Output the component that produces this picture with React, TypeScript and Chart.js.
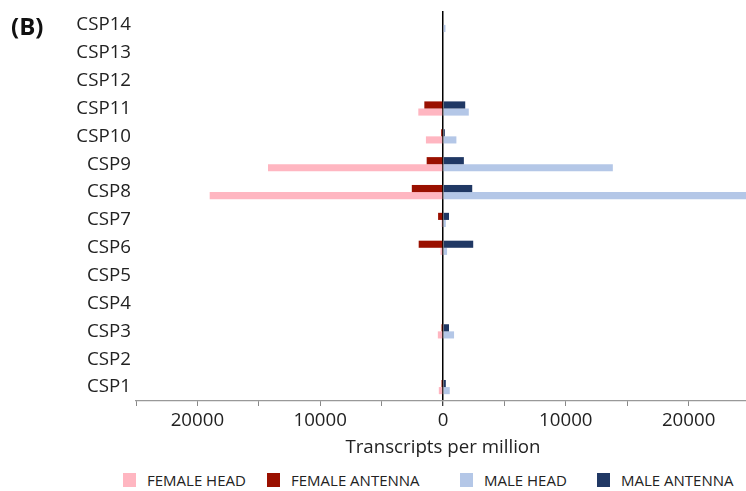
import React, { useEffect, useRef } from "react";
import { Chart, registerables } from "chart.js";

Chart.register(...registerables);

const categories = ["CSP14", "CSP13", "CSP12", "CSP11", "CSP10", "CSP9", "CSP8", "CSP7", "CSP6", "CSP5", "CSP4", "CSP3", "CSP2", "CSP1"];
// Transcripts per million (female shown to the left)
const femaleHead = [0, 0, 0, 2010, 1390, 14250, 19000, 120, 200, 0, 0, 420, 0, 340];
const femaleAntenna = [0, 0, 0, 1520, 150, 1330, 2540, 400, 1980, 0, 0, 120, 0, 120];
const maleHead = [200, 0, 0, 2100, 1090, 13830, 26000, 230, 330, 0, 0, 900, 0, 550];
const maleAntenna = [0, 0, 0, 1810, 150, 1700, 2380, 490, 2460, 0, 0, 490, 0, 230];

const seriesNames = ["FEMALE HEAD", "FEMALE ANTENNA", "MALE HEAD", "MALE ANTENNA"];
const seriesColors = ["#FFB6C1", "#9A1000", "#B4C7E7", "#203864"];
const axisTitle = "Transcripts per million";
const panelLabel = "(B)";

const FONT = '"Open Sans", "Noto Sans", sans-serif';
const legendLeft = [123, 267, 460, 597];

export default function App() {
  const ref = useRef<HTMLCanvasElement | null>(null);

  useEffect(() => {
    if (!ref.current) return;
    const neg = (a: number[]) => a.map((v) => -v);
    const chart = new Chart(ref.current, {
      type: "bar",
      data: {
        labels: categories,
        datasets: [
          { label: seriesNames[1], data: neg(femaleAntenna), backgroundColor: seriesColors[1], stack: "antenna" },
          { label: seriesNames[3], data: maleAntenna, backgroundColor: seriesColors[3], stack: "antenna" },
          { label: seriesNames[0], data: neg(femaleHead), backgroundColor: seriesColors[0], stack: "head" },
          { label: seriesNames[2], data: maleHead, backgroundColor: seriesColors[2], stack: "head" },
        ],
      },
      options: {
        indexAxis: "y",
        responsive: false,
        animation: false,
        devicePixelRatio: 1,
        datasets: { bar: { categoryPercentage: 0.51, barPercentage: 1.0, borderWidth: 0 } },
        layout: { padding: { top: 11, right: 10, left: 0, bottom: 0 } },
        plugins: { legend: { display: false }, tooltip: { enabled: false } },
        scales: {
          x: {
            stacked: true,
            min: -25000,
            max: 25000,
            afterFit: (s: any) => { s.height = 58; s.paddingLeft = 0; s.paddingRight = 0; },
            ticks: {
              stepSize: 5000,
              autoSkip: false,
              maxRotation: 0,
              padding: 3,
              color: "#222",
              font: { family: FONT, size: 18.7 },
              callback: (v: any) => (Number(v) % 10000 === 0 ? String(Math.abs(Number(v))) : ""),
            },
            grid: {
              drawOnChartArea: true,
              color: (c: any) => (c.tick && c.tick.value === 0 ? "#000" : "rgba(0,0,0,0)"),
              lineWidth: (c: any) => (c.tick && c.tick.value === 0 ? 1.5 : 1),
              tickColor: (c: any) => (c.tick && c.tick.value === 0 ? "#000" : "#888"),
              tickLength: 5,
              tickWidth: 1,
            },
            border: { display: true, color: "#999", width: 1.2 },
            title: {
              display: true,
              text: axisTitle,
              color: "#222",
              font: { family: FONT, size: 18.7 },
              padding: { top: 0, bottom: 0 },
            },
          },
          y: {
            afterFit: (s: any) => { s.width = 136; s.paddingTop = 0; s.paddingBottom = 0; },
            grid: { display: false, drawTicks: false },
            border: { display: false },
            ticks: {
              padding: 5,
              color: "#222",
              font: { family: FONT, size: 18.7 },
            },
          },
        },
      },
    });
    return () => chart.destroy();
  }, []);

  return (
    <div style={{ position: "absolute", left: 0, top: 0, width: 746, height: 491, overflow: "hidden", background: "#fff", fontFamily: FONT, color: "#222" }}>
      <canvas ref={ref} width={760} height={459} style={{ position: "absolute", left: 0, top: 0 }} />
      <div style={{ position: "absolute", left: 11, top: 11, fontSize: 24, fontWeight: 700, color: "#111", lineHeight: "30px" }}>{panelLabel}</div>
      {seriesNames.map((name, i) => (
        <div key={name} style={{ position: "absolute", left: legendLeft[i], top: 473, height: 15, display: "flex", alignItems: "flex-start", whiteSpace: "nowrap" }}>
          <div style={{ width: 13, height: 14, background: seriesColors[i], marginRight: 11 }} />
          <div style={{ fontSize: 15, lineHeight: "15px" }}>{name}</div>
        </div>
      ))}
    </div>
  );
}
